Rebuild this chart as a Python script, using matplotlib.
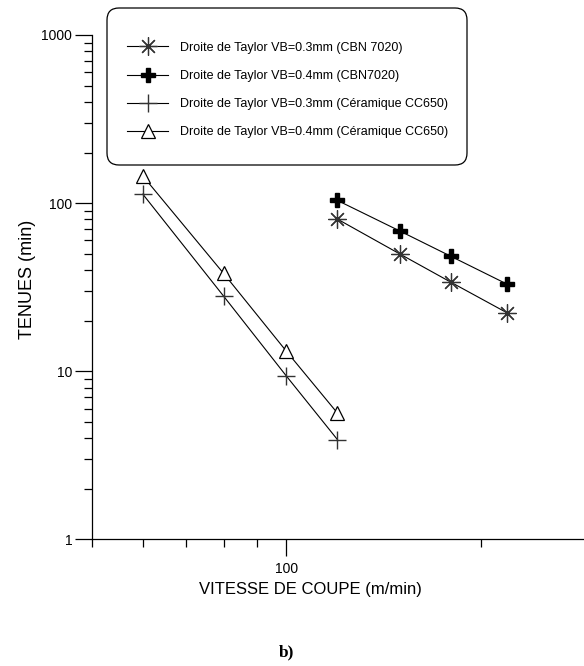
import matplotlib
matplotlib.use('Agg')
import matplotlib.pyplot as plt
from matplotlib.patches import FancyBboxPatch
from matplotlib.ticker import FixedLocator, NullFormatter, FixedFormatter

plt.rcParams['font.family'] = ['Liberation Sans', 'DejaVu Sans']

# data
v_cbn = [120, 150, 180, 220]
t_cbn_03 = [80.4, 49.8, 33.8, 22.2]
t_cbn_04 = [103.8, 68.2, 48.2, 32.9]

v_cer = [60, 80, 100, 120]
t_cer_03 = [113, 28.0, 9.4, 3.93]
t_cer_04 = [145, 38.2, 13.2, 5.65]

labels = ['Droite de Taylor VB=0.3mm (CBN 7020)',
          'Droite de Taylor VB=0.4mm (CBN7020)',
          'Droite de Taylor VB=0.3mm (Céramique CC650)',
          'Droite de Taylor VB=0.4mm (Céramique CC650)']

fig = plt.figure(figsize=(5.84, 6.66), dpi=100)
ax = fig.add_axes([0.157, 0.190, 0.843, 0.7575])

ax.plot(v_cbn, t_cbn_03, color='black', lw=0.8, marker=(8, 2, 0), ms=13,
        mec='#333333', mew=0.9, label=labels[0])
ax.plot(v_cbn, t_cbn_04, color='black', lw=0.8, marker='P', ms=10.5,
        mfc='black', mec='black', label=labels[1])
ax.plot(v_cer, t_cer_03, color='black', lw=0.8, marker='+', ms=13,
        mec='#333333', mew=1.0, label=labels[2])
ax.plot(v_cer, t_cer_04, color='black', lw=0.8, marker='^', ms=10,
        mfc='white', mec='black', mew=0.9, label=labels[3])

ax.set_xscale('log')
ax.set_yscale('log')
ax.set_xlim(50, 289)
ax.set_ylim(1, 1000)

for s in ['top', 'right']:
    ax.spines[s].set_visible(False)
for s in ['left', 'bottom']:
    ax.spines[s].set_linewidth(0.9)

ax.xaxis.set_major_locator(FixedLocator([100]))
ax.xaxis.set_major_formatter(FixedFormatter(['100']))
ax.xaxis.set_minor_locator(FixedLocator([50, 60, 70, 80, 90, 200]))
ax.xaxis.set_minor_formatter(NullFormatter())

ymaj = [1, 10, 100, 1000]
ax.yaxis.set_major_locator(FixedLocator(ymaj))
ax.yaxis.set_major_formatter(FixedFormatter([str(y) for y in ymaj]))
ymin = [m * d for d in [1, 10, 100] for m in range(2, 10)]
ax.yaxis.set_minor_locator(FixedLocator(ymin))
ax.yaxis.set_minor_formatter(NullFormatter())

ax.tick_params(which='major', direction='out', length=12, width=0.9, labelsize=10)
ax.tick_params(which='minor', direction='out', length=6, width=0.9)
ax.tick_params(axis='y', which='major', pad=2)
ax.tick_params(axis='x', which='major', pad=4)

ax.set_xlabel('VITESSE DE COUPE (m/min)', fontsize=12)
ax.xaxis.set_label_coords(0.445, -0.085)
ax.set_ylabel('TENUES (min)', fontsize=13)
ax.yaxis.set_label_coords(-0.114, 0.515)

# legend entries without frame, rounded box drawn separately
leg = fig.legend(loc='upper left', bbox_to_anchor=(0.2175, 0.9375),
                 prop={'size': 9}, frameon=False,
                 handlelength=3.3, handletextpad=0.9, labelspacing=1.3,
                 borderpad=0, borderaxespad=0)
box = FancyBboxPatch((1.07, 5.01), 3.60, 1.57,
                     boxstyle='round,pad=0,rounding_size=0.12',
                     transform=fig.dpi_scale_trans, facecolor='white',
                     edgecolor='black', lw=0.9, zorder=0)
fig.patches.append(box)

fig.text(0.491, 0.008, 'b)', ha='center', va='bottom', fontsize=12.5,
         fontweight='bold', family='Liberation Serif')

fig.savefig('out.png', dpi=100)
